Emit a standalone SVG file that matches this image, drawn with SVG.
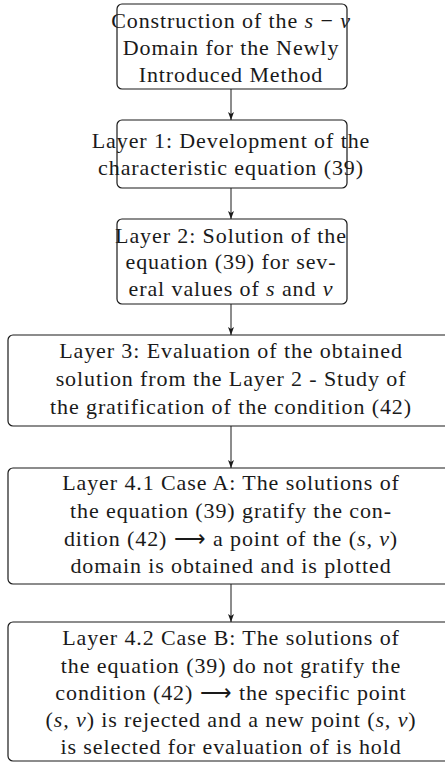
<svg xmlns="http://www.w3.org/2000/svg" width="445" height="762" viewBox="0 0 445 762">
  <style>
    .box { fill: #ffffff; stroke: #1a1a1a; stroke-width: 1.2; }
    .lbl { font-family: "Liberation Serif", "Times New Roman", serif; font-size: 22px; letter-spacing: 0.9px; fill: #1a1a1a; text-anchor: middle; }
    .m { font-style: italic; }
    .edge { stroke: #1a1a1a; stroke-width: 1; fill: none; marker-end: url(#tip); }
  </style>
  <defs>
    <marker id="tip" viewBox="0 0 8 8" refX="8" refY="4" markerWidth="8" markerHeight="8" markerUnits="userSpaceOnUse" orient="auto">
      <path d="M0,1 L8,4 L0,7 L2,4 Z" fill="#1a1a1a"/>
    </marker>
  </defs>
  <rect width="445" height="762" fill="#ffffff"/>

  <g id="connectors">
    <line class="edge" x1="231" y1="89" x2="231" y2="120"/>
    <line class="edge" x1="231" y1="188" x2="231" y2="219"/>
    <line class="edge" x1="231" y1="304" x2="231" y2="335"/>
    <line class="edge" x1="231" y1="426" x2="231" y2="468"/>
    <line class="edge" x1="231" y1="584" x2="231" y2="622"/>
  </g>

  <g id="construction">
    <rect class="box" x="117" y="4" width="230" height="85" rx="5"/>
    <text class="lbl" x="231" y="28">Construction of the <tspan class="m">s</tspan> − <tspan class="m">v</tspan></text>
    <text class="lbl" x="231" y="55">Domain for the Newly</text>
    <text class="lbl" x="231" y="82">Introduced Method</text>
  </g>

  <g id="layer1">
    <rect class="box" x="117" y="120" width="230" height="68" rx="5"/>
    <text class="lbl" x="231" y="148">Layer 1:  Development of the</text>
    <text class="lbl" x="231" y="175">characteristic equation (39)</text>
  </g>

  <g id="layer2">
    <rect class="box" x="117" y="219" width="230" height="85" rx="5"/>
    <text class="lbl" x="231" y="243">Layer 2:  Solution of the</text>
    <text class="lbl" x="231" y="269">equation (39) for sev-</text>
    <text class="lbl" x="231" y="296">eral values of <tspan class="m">s</tspan> and <tspan class="m">v</tspan></text>
  </g>

  <g id="layer3">
    <rect class="box" x="8" y="335" width="446" height="91" rx="5"/>
    <text class="lbl" x="231" y="358">Layer 3:  Evaluation of the obtained</text>
    <text class="lbl" x="231" y="386">solution from the Layer 2 - Study of</text>
    <text class="lbl" x="231" y="414">the gratification of the condition (42)</text>
  </g>

  <g id="layer41">
    <rect class="box" x="8" y="468" width="446" height="116" rx="5"/>
    <text class="lbl" x="231" y="490">Layer 4.1 Case A: The solutions of</text>
    <text class="lbl" x="231" y="518">the equation (39) gratify the con-</text>
    <text class="lbl" x="231" y="546">dition (42) ⟶ a point of the (<tspan class="m">s, v</tspan>)</text>
    <text class="lbl" x="231" y="573">domain is obtained and is plotted</text>
  </g>

  <g id="layer42">
    <rect class="box" x="8" y="622" width="446" height="139" rx="5"/>
    <text class="lbl" x="231" y="645">Layer 4.2 Case B: The solutions of</text>
    <text class="lbl" x="231" y="673">the equation (39) do not gratify the</text>
    <text class="lbl" x="231" y="700">condition (42) ⟶ the specific point</text>
    <text class="lbl" x="231" y="727">(<tspan class="m">s, v</tspan>) is rejected and a new point (<tspan class="m">s, v</tspan>)</text>
    <text class="lbl" x="231" y="754">is selected for evaluation of is hold</text>
  </g>
</svg>
